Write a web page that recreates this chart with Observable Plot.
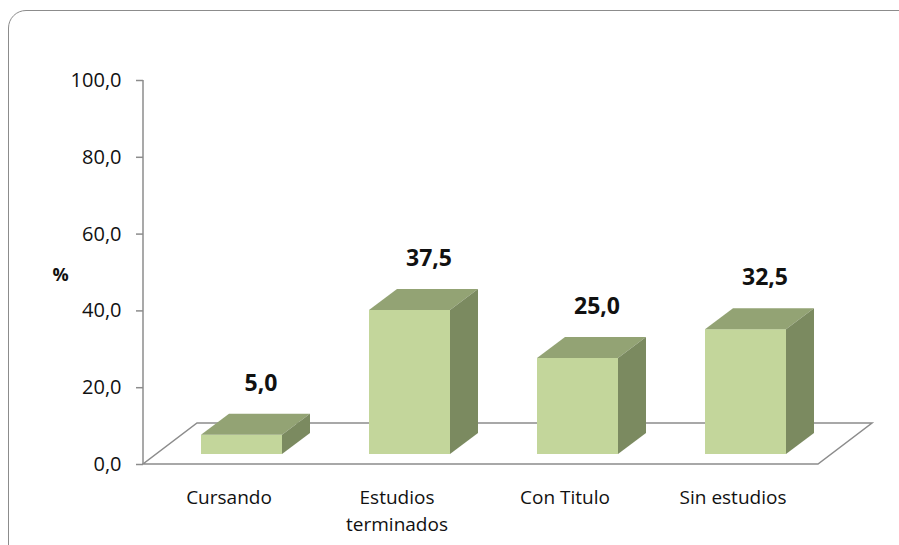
<!DOCTYPE html>
<html>
<head>
<meta charset="utf-8">
<script src="https://cdn.jsdelivr.net/npm/d3@7"></script>
<script src="https://cdn.jsdelivr.net/npm/@observablehq/plot@0.6"></script>
<style>
  html, body { margin: 0; padding: 0; background: #fff; }
  #wrap { position: relative; width: 899px; height: 545px; overflow: hidden; background: #fff; }
  #chart { position: absolute; left: 0; top: 0; }
  #border { position: absolute; left: 8px; top: 10px; width: 910px; height: 560px; border: 1.5px solid #8c8c8c; border-radius: 18px; box-sizing: border-box; pointer-events: none; }
</style>
</head>
<body>
<div id="wrap"><div id="chart"></div><div id="border"></div></div>
<script>
// ---- data ----
const categories = ["Cursando", "Estudios terminados", "Con Titulo", "Sin estudios"];
const values = [5.0, 37.5, 25.0, 32.5];
const categoryLabels = ["Cursando", "Estudios\nterminados", "Con Titulo", "Sin estudios"];
const yTicks = [0, 20, 40, 60, 80, 100];
const yAxisLabel = "%";

// ---- styles ----
const frontColor = "#c3d69b";
const topColor = "#93a374";
const sideColor = "#7b8a60";
const gridStroke = "#8c8c8c";
const textColor = "#111111";
const OFF = {x: 13, y: 10};     // bar set back from the floor front
const DEPTH = {x: 28, y: 21};   // bar depth
const FLOOR = {x: 2 * OFF.x + DEPTH.x, y: 2 * OFF.y + DEPTH.y};

const data = categories.map((c, i) => ({cat: c, value: values[i]}));
const fmt = v => v.toFixed(1).replace(".", ",");
const labelOf = new Map(categories.map((c, i) => [c, categoryLabels[i]]));

const bw = x => (typeof x.bandwidth === "function" ? x.bandwidth() : x.bandwidth);

// floor + y axis line
function floorMark(index, scales, values, dims) {
  const {x, y} = scales;
  const xl = dims.marginLeft, xr = dims.width - dims.marginRight;
  const y0 = y(0);
  const g = d3.create("svg:g").attr("fill", "none").attr("stroke", gridStroke).attr("stroke-width", 1.5);
  g.append("path").attr("d",
    `M${xl},${y0}L${xr},${y0}L${xr + FLOOR.x},${y0 - FLOOR.y}L${xl + FLOOR.x},${y0 - FLOOR.y}Z`);
  g.append("line").attr("x1", xl).attr("x2", xl).attr("y1", y(100)).attr("y2", y0);
  return g.node();
}

// top and side faces of the 3D bars
function facesMark(index, scales) {
  const {x, y} = scales;
  const w = bw(x);
  const g = d3.create("svg:g");
  data.forEach(d => {
    const x0 = x(d.cat) + OFF.x, x1 = x0 + w;
    const yt = y(d.value) - OFF.y, yb = y(0) - OFF.y;
    g.append("path").attr("fill", topColor)
      .attr("d", `M${x0},${yt}L${x1},${yt}L${x1 + DEPTH.x},${yt - DEPTH.y}L${x0 + DEPTH.x},${yt - DEPTH.y}Z`);
    g.append("path").attr("fill", sideColor)
      .attr("d", `M${x1},${yt}L${x1 + DEPTH.x},${yt - DEPTH.y}L${x1 + DEPTH.x},${yb - DEPTH.y}L${x1},${yb}Z`);
  });
  return g.node();
}

const chart = Plot.plot({
  width: 899,
  height: 545,
  marginLeft: 143,
  marginRight: 81,
  marginTop: 80,
  marginBottom: 81,
  style: {fontFamily: "'Open Sans', sans-serif", fontSize: "18px", color: textColor, background: "transparent"},
  x: {domain: categories, paddingInner: 0.52, paddingOuter: 0.26, label: null},
  y: {domain: [0, 100], label: null},
  marks: [
    floorMark,
    Plot.barY(data, {x: "cat", y: "value", fill: frontColor, dx: OFF.x, dy: -OFF.y}),
    facesMark,
    Plot.text(data, {x: "cat", y: "value", text: d => fmt(d.value), dx: 32, dy: -62,
      fontWeight: "bold", fontSize: 23, fill: textColor}),
    Plot.axisY({ticks: yTicks, tickFormat: fmt, tickSize: 7, tickPadding: 15, stroke: gridStroke,
      strokeWidth: 1.5, fill: textColor, fontSize: 20, label: null}),
    Plot.axisX({tickSize: 0, tickPadding: 21, tickFormat: c => labelOf.get(c), fontSize: 19,
      lineHeight: 1.4, fill: textColor, label: null}),
    Plot.text([yAxisLabel], {frameAnchor: "left", text: d => d, dx: -91, dy: 3,
      fontWeight: "bold", fontSize: 18, fill: textColor})
  ]
});
document.getElementById("chart").appendChild(chart);
</script>
</body>
</html>
